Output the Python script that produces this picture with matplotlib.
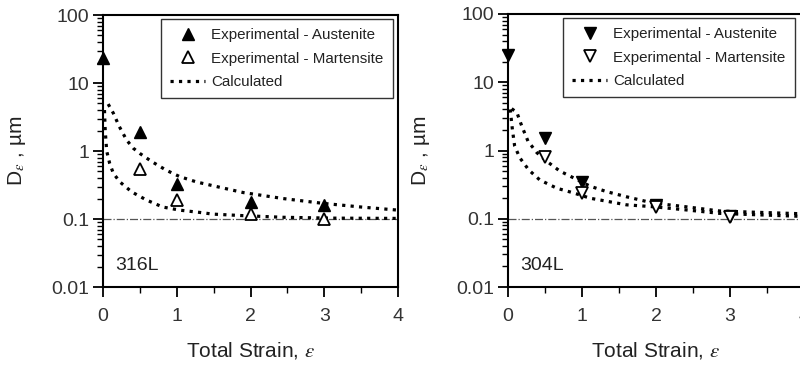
import matplotlib
matplotlib.use("Agg")
import matplotlib.pyplot as plt
from matplotlib.ticker import FixedLocator, NullFormatter, LogLocator, MultipleLocator

plt.rcParams['font.family'] = ['Liberation Sans', 'DejaVu Sans']
plt.rcParams['mathtext.fontset'] = 'stix'

# ---- 316L data ----
a316_x = [0, 0.5, 1, 2, 3]
a316_y = [23, 1.9, 0.33, 0.18, 0.16]
m316_x = [0.5, 1, 2, 3]
m316_y = [0.54, 0.19, 0.12, 0.10]
cu316_x = [0.07, 0.14, 0.22, 0.32, 0.41, 0.5, 0.66, 0.86, 1.04, 1.27, 1.54, 1.9, 2.44, 2.98, 3.5, 4.0]
cu316_y = [4.9, 3.6, 2.3, 1.45, 1.1, 0.92, 0.70, 0.52, 0.42, 0.35, 0.30, 0.245, 0.20, 0.17, 0.15, 0.135]
cl316_x = [0.02, 0.03, 0.05, 0.09, 0.14, 0.23, 0.39, 0.59, 0.81, 1.04, 1.31, 1.49, 1.9, 2.44, 3.1, 4.0]
cl316_y = [4.0, 2.0, 1.0, 0.66, 0.47, 0.35, 0.25, 0.19, 0.15, 0.135, 0.125, 0.118, 0.112, 0.106, 0.103, 0.102]

# ---- 304L data ----
a304_x = [0, 0.5, 1, 2, 3]
a304_y = [25, 1.5, 0.34, 0.16, 0.11]
m304_x = [0.5, 1, 2, 3]
m304_y = [0.8, 0.24, 0.15, 0.105]
cu304_x = [0.05, 0.12, 0.185, 0.27, 0.39, 0.52, 0.70, 0.88, 1.11, 1.33, 1.6, 1.96, 2.4, 2.86, 3.3, 3.8, 4.0]
cu304_y = [4.1, 3.6, 2.3, 1.37, 0.93, 0.70, 0.50, 0.40, 0.30, 0.25, 0.21, 0.17, 0.15, 0.13, 0.125, 0.12, 0.118]
cl304_x = [0.03, 0.06, 0.09, 0.16, 0.28, 0.43, 0.66, 0.88, 1.11, 1.6, 1.96, 2.4, 2.86, 3.3, 3.8, 4.0]
cl304_y = [4.0, 2.0, 1.16, 0.78, 0.52, 0.37, 0.28, 0.24, 0.20, 0.16, 0.15, 0.135, 0.12, 0.115, 0.11, 0.108]

y_ticks = [0.01, 0.1, 1, 10, 100]
y_labels = ["0.01", "0.1", "1", "10", "100"]
x_ticks = [0, 1, 2, 3, 4]
legend_labels = ["Experimental - Austenite", "Experimental - Martensite", "Calculated"]

fig = plt.figure(figsize=(8.0, 3.67), dpi=100)
ax1 = fig.add_axes([103/800, 80/367, 295/800, 272/367])
ax2 = fig.add_axes([508/800, 80/367, 296/800, 273/367])

def draw(ax, ax_x, ax_y, mx, my, cux, cuy, clx, cly, mk, name, leg_x):
    ax.set_yscale('log')
    ax.set_xlim(0, 4)
    ax.set_ylim(0.01, 100)
    ax.axhline(0.1, color='#555555', lw=0.9, ls='-.', zorder=1)
    l1, = ax.plot(cux, cuy, ls=':', color='black', lw=2.3, zorder=2)
    ax.plot(clx, cly, ls=':', color='black', lw=2.3, zorder=2)
    h1, = ax.plot(ax_x, ax_y, ls='none', marker=mk, ms=9, color='black', zorder=3, clip_on=False)
    h2, = ax.plot(mx, my, ls='none', marker=mk, ms=9, mfc='white', mec='black', mew=1.3, zorder=4)
    ax.yaxis.set_major_locator(FixedLocator(y_ticks))
    ax.set_yticklabels(y_labels)
    ax.yaxis.set_minor_locator(LogLocator(base=10, subs=range(2, 10)))
    ax.yaxis.set_minor_formatter(NullFormatter())
    ax.xaxis.set_major_locator(FixedLocator(x_ticks))
    ax.xaxis.set_minor_locator(MultipleLocator(0.5))
    ax.tick_params(axis='both', which='major', direction='out', length=7, width=1.3,
                   labelsize=14, colors='black', labelcolor='#333333')
    ax.tick_params(axis='y', which='major', pad=3)
    ax.tick_params(axis='x', which='major', pad=8)
    ax.tick_params(axis='both', which='minor', direction='out', length=4, width=1.0)
    for s in ax.spines.values():
        s.set_linewidth(1.5)
    ax.set_xlabel("Total Strain, $\\varepsilon$", fontsize=15, color='#222222', labelpad=11)
    ax.set_ylabel("D$_{\\varepsilon}$ , µm", fontsize=15, color='#222222', labelpad=17)
    ax.text(0.04, 0.08, name, transform=ax.transAxes, fontsize=14, color='#222222',
            ha='left', va='center')
    leg = ax.legend([h1, h2, l1], legend_labels, loc='upper right',
                    bbox_to_anchor=(leg_x, 0.985), fontsize=10.9, frameon=True,
                    fancybox=False, edgecolor='black', handlelength=2.3,
                    handletextpad=0.4, labelspacing=0.62, borderpad=0.6,
                    borderaxespad=0.0)
    leg.get_frame().set_linewidth(1.0)
    for t in leg.get_texts():
        t.set_color('#222222')

draw(ax1, a316_x, a316_y, m316_x, m316_y, cu316_x, cu316_y, cl316_x, cl316_y, '^', '316L', 0.982)
draw(ax2, a304_x, a304_y, m304_x, m304_y, cu304_x, cu304_y, cl304_x, cl304_y, 'v', '304L', 0.968)

fig.savefig("out.png", dpi=100, facecolor='white')
